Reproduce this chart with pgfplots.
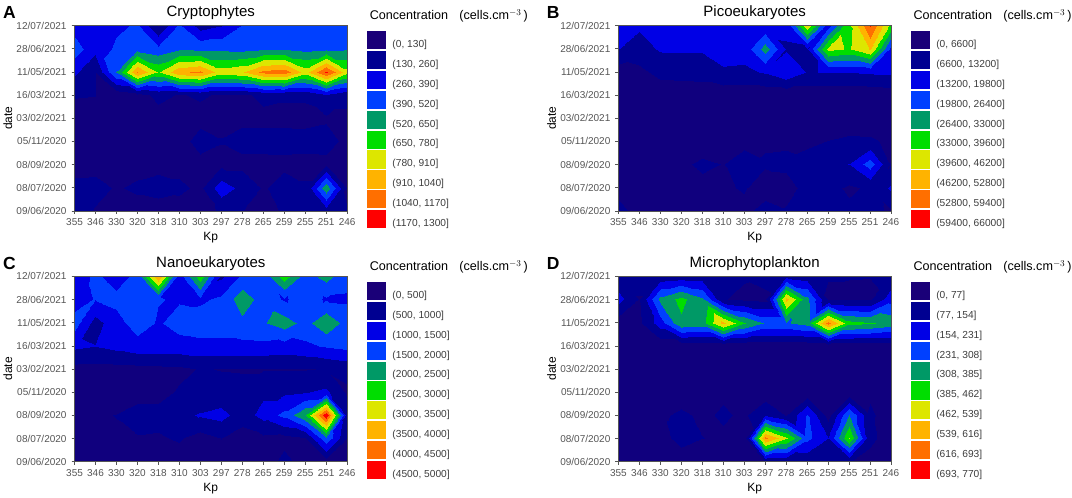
\documentclass[border=0pt]{standalone}
\usepackage{pgfplots}
\usepackage{pgfplotstable}
\pgfplotsset{compat=1.18}
\usepackage{fontspec}
\setmainfont{Liberation Sans}

\definecolor{tickgrey}{RGB}{85,85,85}
\definecolor{legendgrey}{RGB}{60,60,60}
\definecolor{band1}{RGB}{26,0,120}
\definecolor{band2}{RGB}{0,0,145}
\definecolor{band3}{RGB}{0,0,230}
\definecolor{band4}{RGB}{0,64,255}
\definecolor{band5}{RGB}{0,153,102}
\definecolor{band6}{RGB}{0,221,0}
\definecolor{band7}{RGB}{221,230,0}
\definecolor{band8}{RGB}{255,179,0}
\definecolor{band9}{RGB}{255,111,0}
\definecolor{band10}{RGB}{255,0,0}

\pgfplotsset{
  panel/.style={
    scale only axis, width=272.8pt, height=185.5pt, anchor=south west,
    view={0}{90}, xmin=0, xmax=13, ymin=0, ymax=8,
    xtick={0,...,13}, ytick={0,...,8}, xtick pos=bottom, ytick pos=left,
    xticklabels={355,346,330,320,318,310,303,297,278,265,259,255,251,246},
    yticklabels={09/06/2020,08/07/2020,08/09/2020,05/11/2020,03/02/2021,16/03/2021,11/05/2021,28/06/2021,12/07/2021},
    tick align=outside, major tick length=3pt,
    tick style={tickgrey, thin}, axis line style={tickgrey, thin},
    xticklabel style={font=\fontsize{10}{12}\selectfont, text=tickgrey, yshift=-1pt},
    yticklabel style={font=\fontsize{10}{12}\selectfont, text=tickgrey, xshift=-1.5pt},
    xlabel={Kp}, ylabel={date},
    label style={font=\fontsize{12}{14}\selectfont},
    xlabel style={yshift=0pt}, ylabel style={yshift=-2.5pt},
    title style={font=\fontsize{15}{17}\selectfont, yshift=-4pt},
    colormap={bands}{rgb255=(16,0,126) rgb255=(0,0,145) rgb255=(0,0,230) rgb255=(0,64,255)
      rgb255=(0,153,102) rgb255=(0,221,0) rgb255=(221,230,0) rgb255=(255,179,0)
      rgb255=(255,111,0) rgb255=(255,0,0)},
    legend image code/.code={\fill[##1, draw=none] (0pt,-5.3pt) rectangle (18.7pt,12.9pt);},
    legend cell align=left,
    legend style={at={(1,1)}, anchor=north west, xshift=19.8pt, yshift=-5.5pt,
      draw=none, fill=none, inner sep=0pt, row sep=-3pt, column sep=6.7pt,
      nodes={font=\fontsize{10.2}{12}\selectfont, text=legendgrey, inner sep=0pt,
        text height=13.5pt, text depth=6.5pt}},
  },
  contour bands/.style={patch, patch type=triangle, shader=interp, point meta=z,
    colormap access=piecewise constant, forget plot},
}

% grid values, read as multiples of the legend step, 14 per row from the bottom row up
\def\dataA{1.5,.9,.5,.5,.5,.6,.7,1.1,1.02,.7,1.1,1.2,1.5,1.02,
1.3,1.4,.9,1.2,1.4,1.2,.8,2.6,1.7,.9,1.4,1.1,4.7,.9,
.6,.6,.6,.6,.7,.7,.77,.75,.75,.75,.8,.8,.8,.7,
.6,.6,.6,.6,.6,.7,1.3,1.05,1.3,1.3,1.3,1.25,1.3,.8,
.7,.7,.6,.6,.7,.7,.75,.7,.8,.8,.8,.8,.9,.9,
1.05,1.02,.3,.7,1.2,.95,1.1,.9,.85,1.2,1.1,1.1,1.9,1.15,
2.2,1.02,4.02,8.1,5.9,7.8,8.2,6.5,6.9,8.3,8.6,6.6,9.2,6.4,
3.5,2.3,3.2,3.7,3.3,3.9,3.8,3.8,3.7,3.9,3.95,3.7,3.85,3.9,
2.5,2.5,2.8,3.1,.9,3.1,1.5,1.9,3.02,3.4,3.4,3.4,3.4,3.4}
\def\dataB{1.3,.7,.6,.6,.6,.6,.7,1.5,1.1,1.3,1.3,1.2,1.2,.9,
.7,.6,.6,.6,.7,.85,1.1,.4,.65,1.3,1.3,.85,1.15,2.2,
.5,.5,.55,.8,1.2,.97,1.6,1.15,1.2,1.5,1.7,2.02,3.5,.97,
.35,.35,.35,.35,.4,.5,.62,.85,.87,.75,1.02,1.2,1.15,.8,
.3,.3,.3,.3,.3,.3,.3,.3,.3,.3,.4,.4,.4,.3,
.35,.35,.35,.35,.35,.35,.35,.3,.3,.3,.3,.3,.3,.4,
.5,.75,1.3,1.4,1.45,1.85,1.8,2.1,2.8,1.95,2.05,2.02,2.15,2.2,
2.02,1.6,2.1,2.1,2.1,2.5,2.4,4.5,1.9,1.95,6.3,5.9,7.1,2.6,
2.5,2.15,2.3,2.5,2.5,2.6,2.6,2.15,2.2,6.9,2.5,5.8,9.1,5.7}
\def\dataC{.5,.5,.5,.5,.5,.6,.6,.6,.5,.5,1.3,.6,.5,.5,
.7,.8,.9,.95,.9,1.1,.6,1.02,.5,.8,.7,.95,3.8,1.02,
.8,.9,1.02,1.3,1.3,1.7,2.1,2.35,1.5,2.35,3.3,4.9,9.8,1.5,
.5,.5,.5,.7,.7,1.1,1.3,1.3,1.3,1.8,1.8,1.95,2.2,.85,
.7,.7,.7,.7,.75,.8,1.05,.97,.93,.93,.93,.95,1.05,1.3,
2.2,2.02,2.3,2.6,2.6,2.6,2.7,2.7,2.7,2.75,2.6,2.8,3.1,3.3,
3.4,1.6,2.6,3.5,2.9,3.4,3.55,3.5,3.75,3.9,4.5,3.65,4.8,3.6,
2.6,3.05,3.3,3.6,3.05,2.9,2.8,3.2,4.6,3.55,2.9,3.4,2.9,2.85,
2.4,3.2,2.5,3.3,8.1,2.5,5.7,1.8,3.2,3.3,5.6,3.6,4.4,3.4}
\def\dataD{.3,.3,.3,.3,.3,.3,.5,.9,1.05,1.15,1.1,1.02,.7,.5,
.3,.3,.53,1.45,1.02,.82,.3,8.3,6.2,3.3,2.02,6.05,1.2,.6,
.3,.3,.8,1.2,.8,1.15,.82,1.9,.95,3.1,.6,4.02,1.1,.7,
.2,.2,.2,.46,.3,.82,.3,.4,.3,.3,.3,.3,.9,.4,
.2,.2,.2,.2,.2,.2,.2,.2,.2,.2,.2,.2,.2,.2,
.2,.3,.3,.3,.3,.3,.3,.3,.3,.3,.3,.3,.3,.3,
.5,.8,2.5,4.8,4.6,7.3,5.1,3.9,3.9,4.4,8.4,5.4,5.1,4.7,
2.4,.95,4.3,5.3,4.2,1.05,.8,.7,7.3,4.3,.9,.85,.85,2.6,
1.3,1.3,1.3,1.5,1.4,1.2,1.1,1.4,1.7,1.4,1.03,1.03,1.02,1.2}

% each grid cell becomes two triangles, split along the diagonal with the closer ends,
% so that a lone peak gets straight diamond contours
\newcommand{\addvertex}[1]{\xdef\gridrows{\gridrows
  \csname gx#1\endcsname\space\csname gy#1\endcsname\space\csname gz#1\endcsname\noexpand\\}}
\newcommand{\readrows}[2]{\pgfplotstableread[row sep=\\, header=false]{#1}#2}
\newcommand{\buildgrid}[2]{%
  \gdef\gridrows{}%
  \foreach \v [count=\n from 0] in #1 {%
    \pgfmathtruncatemacro\gx{mod(\n,14)}\pgfmathtruncatemacro\gy{\n/14}%
    \expandafter\xdef\csname gx\n\endcsname{\gx}%
    \expandafter\xdef\csname gy\n\endcsname{\gy}%
    \expandafter\xdef\csname gz\n\endcsname{\v}}%
  \foreach \j in {0,...,7}{\foreach \i in {0,...,12}{%
    \pgfmathtruncatemacro\a{\i+14*\j}\pgfmathtruncatemacro\b{\a+1}%
    \pgfmathtruncatemacro\c{\a+14}\pgfmathtruncatemacro\d{\a+15}%
    \pgfmathtruncatemacro\split{abs(\csname gz\a\endcsname-\csname gz\d\endcsname)
      <abs(\csname gz\b\endcsname-\csname gz\c\endcsname)?1:0}%
    \ifnum\split=1
      \addvertex\a\addvertex\b\addvertex\d\addvertex\a\addvertex\d\addvertex\c
    \else
      \addvertex\a\addvertex\b\addvertex\c\addvertex\b\addvertex\d\addvertex\c
    \fi}}%
  \expandafter\readrows\expandafter{\gridrows}{#2}}

\buildgrid{\dataA}{\gridA}
\buildgrid{\dataB}{\gridB}
\buildgrid{\dataC}{\gridC}
\buildgrid{\dataD}{\gridD}

\newcommand{\bandimages}{%
  \addlegendimage{fill=band1}\addlegendimage{fill=band2}\addlegendimage{fill=band3}%
  \addlegendimage{fill=band4}\addlegendimage{fill=band5}\addlegendimage{fill=band6}%
  \addlegendimage{fill=band7}\addlegendimage{fill=band8}\addlegendimage{fill=band9}%
  \addlegendimage{fill=band10}}
\newcommand{\paneltext}[2]{%
  \node[anchor=north west, font=\fontsize{17.5}{18}\selectfont\bfseries, inner sep=0pt,
    xshift=-71.7pt, yshift=19.5pt] at (#1.north west) {#2};
  \node[anchor=base west, font=\fontsize{12.6}{14}\selectfont, inner sep=0pt,
    xshift=22.5pt, yshift=5.5pt] at (#1.north east)
    {Concentration\hspace{0.9em}(cells.cm$^{-3}$\,)};}

\begin{document}
\begin{tikzpicture}[x=1pt,y=1pt]
\path (0,0) rectangle (1072,495);

\begin{axis}[panel, name=A, at={(73.7pt,284pt)}, title={Cryptophytes},
  point meta min=0, point meta max=1300]
\addplot3[contour bands] table[x index=0, y index=1, z expr={\thisrowno{2}*130}] {\gridA};
\bandimages
\legend{{(0, 130]},{(130, 260]},{(260, 390]},{(390, 520]},{(520, 650]},{(650, 780]},{(780, 910]},{(910, 1040]},{(1040, 1170]},{(1170, 1300]}}
\end{axis}
\paneltext{A}{A}

\begin{axis}[panel, name=B, at={(618pt,284pt)}, title={Picoeukaryotes},
  point meta min=0, point meta max=66000]
\addplot3[contour bands] table[x index=0, y index=1, z expr={\thisrowno{2}*6600}] {\gridB};
\bandimages
\legend{{(0, 6600]},{(6600, 13200]},{(13200, 19800]},{(19800, 26400]},{(26400, 33000]},{(33000, 39600]},{(39600, 46200]},{(46200, 52800]},{(52800, 59400]},{(59400, 66000]}}
\end{axis}
\paneltext{B}{B}

\begin{axis}[panel, name=C, at={(73.7pt,33pt)}, title={Nanoeukaryotes},
  point meta min=0, point meta max=5000]
\addplot3[contour bands] table[x index=0, y index=1, z expr={\thisrowno{2}*500}] {\gridC};
\bandimages
\legend{{(0, 500]},{(500, 1000]},{(1000, 1500]},{(1500, 2000]},{(2000, 2500]},{(2500, 3000]},{(3000, 3500]},{(3500, 4000]},{(4000, 4500]},{(4500, 5000]}}
\end{axis}
\paneltext{C}{C}

\begin{axis}[panel, name=D, at={(618pt,33pt)}, title={Microphytoplankton},
  point meta min=0, point meta max=770]
\addplot3[contour bands] table[x index=0, y index=1, z expr={\thisrowno{2}*77}] {\gridD};
\bandimages
\legend{{(0, 77]},{(77, 154]},{(154, 231]},{(231, 308]},{(308, 385]},{(385, 462]},{(462, 539]},{(539, 616]},{(616, 693]},{(693, 770]}}
\end{axis}
\paneltext{D}{D}
\end{tikzpicture}
\end{document}
